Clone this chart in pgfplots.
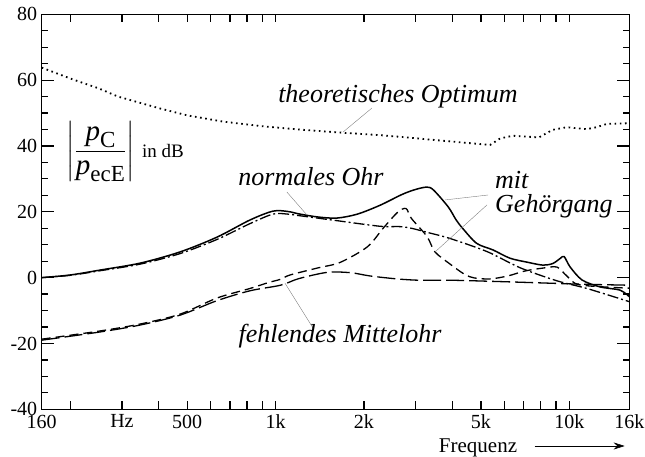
\documentclass[border=0pt]{standalone}
\usepackage{fontspec}
\setmainfont{Liberation Serif}
\usepackage{amsmath}
\usepackage{pgfplots}
\usetikzlibrary{arrows.meta}
\pgfplotsset{compat=1.18}
\newcommand\sub[1]{\text{\fontsize{23}{23}\selectfont #1}}
\begin{document}
\begin{tikzpicture}
\useasboundingbox (-41.7pt,-47.7pt) rectangle (603.3pt,409.3pt);
\begin{axis}[
  at={(0pt,0pt)}, anchor=south west,
  scale only axis, width=587.6pt, height=395pt,
  xmode=log, xmin=160, xmax=16000, ymin=-40, ymax=80,
  axis line style={line width=1.2pt},
  tick style={line width=1.2pt, black},
  tick align=inside,
  major tick length=8pt, minor tick length=6pt,
  ytick style={/pgfplots/major tick length=12pt},
  xtick={160,200,300,400,500,600,700,800,900,1000,2000,3000,4000,5000,6000,7000,8000,9000,10000,16000},
  xticklabels={\textrm{160},,\textrm{Hz},,\textrm{500},,,,,\textrm{1k},\textrm{2k},,,\textrm{5k},,,,,\textrm{10k},\textrm{16k}},
  ytick={-40,-20,0,20,40,60,80},
  yticklabels={\textrm{-40},\textrm{-20},\textrm{0},\textrm{20},\textrm{40},\textrm{60},\textrm{80}},
  minor ytick={-35,-30,-25,-15,-10,-5,5,10,15,25,30,35,45,50,55,65,70,75},
  ticklabel style={font=\fontsize{20}{22}\selectfont},
  xticklabel style={yshift=-2pt},
  yticklabel style={xshift=-1pt},
]
% theoretisches Optimum
\addplot[black, line width=1.8pt, dash pattern=on 1.6pt off 3.6pt] coordinates {
(160,63.8) (200,60.5) (250,57.5) (291,55) (400,51.5) (500,49.3) (662,47.4) (900,46) (1200,45) (1700,44) (2254,43.3) (2800,42.6) (3490,41.8) (4930,40.6) (5370,40.3) (5820,42.3) (6420,43.1) (7880,42.6) (8770,44.9) (9810,45.7) (11450,45.1) (12390,45.7) (13400,46.7) (16000,46.9)};
% normales Ohr (solid)
\addplot[black, line width=1.5pt, smooth, tension=0.5] coordinates {
(160,0) (200,0.8) (253,2.3) (346,4.4) (473,7.8) (632,12.3) (818,17.5) (980,20.2) (1100,20.1) (1211,19.3) (1400,18.4) (1620,18.1) (1900,19.3) (2270,22) (2700,25.3) (3000,26.8) (3277,27.5) (3450,26.6) (3870,21.5) (4120,17.5) (4350,14.8) (4840,10.4) (5500,8.4) (6280,5.9) (7180,4.7) (8130,3.8) (8790,4.3) (9300,5.8) (9600,6.4) (10050,3.3) (11040,-0.7) (12700,-2.8) (14870,-3.8) (16000,-5.8)};
% dash-dot
\addplot[black, line width=1.3pt, smooth, tension=0.5, dash pattern=on 11pt off 3pt on 2pt off 3pt] coordinates {
(160,0) (200,0.7) (253,2.1) (346,4.1) (473,7.3) (632,11.6) (818,16.4) (980,19.3) (1100,19.3) (1211,18.8) (1620,17.3) (2270,15.6) (2650,15.5) (2900,15) (3300,13.7) (3924,11.9) (5250,7.9) (6800,3) (9100,-1) (11480,-3.3) (16000,-7.3)};
% short dash
\addplot[black, line width=1.3pt, smooth, tension=0.5, dash pattern=on 9pt off 5pt] coordinates {
(160,-18.7) (253,-16.2) (346,-14.1) (473,-11.1) (632,-6.2) (818,-3.3) (945,-1.5) (1040,-0.5) (1120,0.8) (1400,3) (1657,4.6) (2050,9.3) (2324,15) (2600,19.8) (2780,21) (2900,18) (3277,12.5) (3490,7.8) (3930,4.1) (4400,1) (4750,-0.1) (5370,-0.4) (6170,0.5) (7050,2) (8130,2.9) (9080,3.2) (9810,0.5) (10860,-2.2) (16000,-3.2)};
% long dash (fehlendes Mittelohr)
\addplot[black, line width=1.3pt, smooth, tension=0.5, dash pattern=on 18pt off 5pt] coordinates {
(160,-19) (253,-16.5) (346,-14.4) (473,-11.4) (632,-7) (818,-4) (1040,-2.3) (1200,-0.3) (1500,1.6) (1800,1.5) (2100,0.5) (2600,-0.4) (3100,-0.8) (4000,-0.8) (5800,-1.2) (8000,-1.6) (11000,-2) (16000,-2.3)};
% labels and leaders
\draw[gray, line width=0.4pt] (axis cs:1696,44.2) -- (axis cs:2127,51.5);
\node[anchor=base, font=\fontsize{26}{30}\selectfont\itshape] at (axis cs:2611,53.1) {theoretisches Optimum};
\draw[gray, line width=0.4pt] (axis cs:1093,26.0) -- (axis cs:1280,19.0);
\node[anchor=base, font=\fontsize{26}{30}\selectfont\itshape] at (axis cs:1321,28.1) {normales Ohr};
\draw[gray, line width=0.4pt] (axis cs:5287,25.1) -- (axis cs:3774,23.6);
\draw[gray, line width=0.4pt] (axis cs:5246,22.1) -- (axis cs:3490,7.8);
\node[anchor=base west, inner sep=0pt, font=\fontsize{26}{30}\selectfont\itshape] at (axis cs:5585,27.2) {mit};
\node[anchor=base west, inner sep=0pt, font=\fontsize{26}{30}\selectfont\itshape] at (axis cs:5585,19.9) {Gehörgang};
\draw[gray, line width=0.4pt] (axis cs:1077,-1.7) -- (axis cs:1341,-15.3);
\node[anchor=base, font=\fontsize{26}{30}\selectfont\itshape] at (axis cs:1658,-19.7) {fehlendes Mittelohr};
\node[anchor=west, inner sep=0pt, font=\fontsize{29}{30}\selectfont] at (axis cs:194,38.2)
  {$\left|\dfrac{\textit{p}_{\sub{C}}}{\textit{p}_{\sub{ecE}}}\right|$\ {\fontsize{19}{20}\selectfont in dB}};
\end{axis}
\node[anchor=base, font=\fontsize{21}{24}\selectfont] at (436.3pt,-43.7pt) {Frequenz};
\draw[-{Stealth[length=11pt,width=7pt]}, line width=0.6pt] (493pt,-36.7pt) -- (583pt,-36.7pt);
\end{tikzpicture}
\end{document}
